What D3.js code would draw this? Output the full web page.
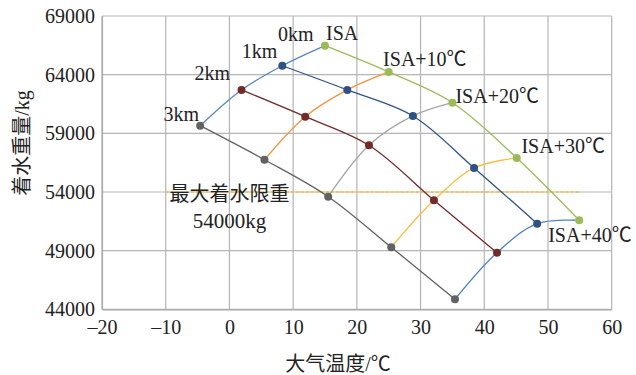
<!DOCTYPE html>
<html>
<head>
<meta charset="utf-8">
<script src="https://cdn.jsdelivr.net/npm/d3@7/dist/d3.min.js"></script>
<style>
  html, body { margin: 0; padding: 0; background: #fff; }
  text { font-family: "Liberation Serif", "Noto Sans CJK SC", serif; fill: #222; }
</style>
</head>
<body>
<svg id="chart" width="636" height="375"></svg>
<script>
// Axis ticks
const xTicks = [-20, -10, 0, 10, 20, 30, 40, 50, 60];
const yTicks = [44000, 49000, 54000, 59000, 64000, 69000];

// Row labels (pressure altitude) and isotherm labels
const altitudes = ["0km", "1km", "2km", "3km"];
const isaLabels = ["ISA", "ISA+10℃", "ISA+20℃", "ISA+30℃", "ISA+40℃"];

// Outside air temperature (℃) and landing weight (kg) per altitude, ISA .. ISA+40
const temp0km   = [15, 25, 35, 45.1, 54.9];
const weight0km = [66470, 64230, 61610, 56900, 51590];
const temp1km   = [8.3, 18.5, 28.8, 38.4, 48.3];
const weight1km = [64760, 62700, 60480, 56050, 51300];
const temp2km   = [1.9, 11.9, 21.9, 32.1, 42];
const weight2km = [62700, 60420, 57980, 53290, 48830];
const temp3km   = [-4.6, 5.5, 15.5, 25.4, 35.4];
const weight3km = [59650, 56750, 53600, 49290, 44860];

// Maximum water-landing weight
const maxWeight = 54000;
const maxWeightRange = [-10, 55];

const altColors = ["#9bbb59", "#2f5284", "#722b2b", "#626262"];
const isaColors = ["#5686c6", "#f7913d", "#a5a5a5", "#fbbd45", "#4f80c8"];

const rows = [
  { name: altitudes[0], t: temp0km, w: weight0km, color: altColors[0] },
  { name: altitudes[1], t: temp1km, w: weight1km, color: altColors[1] },
  { name: altitudes[2], t: temp2km, w: weight2km, color: altColors[2] },
  { name: altitudes[3], t: temp3km, w: weight3km, color: altColors[3] }
];

const svg = d3.select("#chart");
const m = { left: 102, top: 16, right: 24.3, bottom: 65.7 };
const W = 636 - m.left - m.right, H = 375 - m.top - m.bottom;

const x = d3.scaleLinear().domain([-20, 60]).range([m.left, m.left + W]);
const y = d3.scaleLinear().domain([44000, 69000]).range([m.top + H, m.top]);

// Grid
const grid = svg.append("g").attr("stroke", "#b5b5b5").attr("stroke-width", 1.2);
grid.selectAll("line.v").data(xTicks).join("line")
  .attr("x1", d => x(d)).attr("x2", d => x(d))
  .attr("y1", m.top).attr("y2", m.top + H);
grid.selectAll("line.h").data(yTicks).join("line")
  .attr("x1", m.left).attr("x2", m.left + W)
  .attr("y1", d => y(d)).attr("y2", d => y(d));

// Axes (labels only)
const xAxis = svg.append("g").attr("transform", `translate(0,${m.top + H})`)
  .call(d3.axisBottom(x).tickValues(xTicks).tickSize(0).tickPadding(11).tickFormat(d => d < 0 ? "–" + Math.abs(d) : d));
const yAxis = svg.append("g").attr("transform", `translate(${m.left},0)`)
  .call(d3.axisLeft(y).tickValues(yTicks).tickSize(0).tickPadding(7).tickFormat(d3.format("d")));
[xAxis, yAxis].forEach(a => {
  a.select(".domain").attr("stroke", "#a8a8a8").attr("stroke-width", 1.2);
  a.selectAll("text").style("font-size", "20px").attr("fill", "#222");
});

// Maximum landing weight line
svg.append("line")
  .attr("x1", x(maxWeightRange[0])).attr("x2", x(maxWeightRange[1]))
  .attr("y1", y(maxWeight)).attr("y2", y(maxWeight))
  .attr("stroke", "#f5c043").attr("stroke-width", 1.3).attr("stroke-dasharray", "3,2");

const line = d3.line().x(d => x(d[0])).y(d => y(d[1])).curve(d3.curveCatmullRom.alpha(0.5));

// Isotherm curves: 3km -> 0km at the same ISA deviation
const isoRows = [rows[3], rows[2], rows[1], rows[0]];
isaLabels.forEach((lab, i) => {
  svg.append("path")
    .attr("d", line(isoRows.map(r => [r.t[i], r.w[i]])))
    .attr("fill", "none").attr("stroke", isaColors[i]).attr("stroke-width", 1.3);
});

// Altitude curves
rows.forEach(r => {
  svg.append("path")
    .attr("d", line(r.t.map((t, i) => [t, r.w[i]])))
    .attr("fill", "none").attr("stroke", r.color).attr("stroke-width", 1.3);
});

// Markers
rows.forEach(r => {
  svg.append("g").selectAll("circle").data(r.t.map((t, i) => [t, r.w[i]])).join("circle")
    .attr("cx", d => x(d[0])).attr("cy", d => y(d[1])).attr("r", 4)
    .attr("fill", r.color);
});

// Altitude labels, placed beside the ISA point of each row
const altOffsets = [[-47, -5], [-5, -7.4], [-11.5, -10], [-1, -5]];
const altAnchors = ["start", "end", "end", "end"];
rows.forEach((r, k) => {
  svg.append("text")
    .attr("x", x(r.t[0]) + altOffsets[k][0]).attr("y", y(r.w[0]) + altOffsets[k][1])
    .attr("text-anchor", altAnchors[k]).style("font-size", "20px").text(r.name);
});

// Isotherm labels, placed beside the 0km point of each isotherm
const isaOffsets = [[1, -6], [-5.6, -6], [3, 0.8], [4.7, -4.7], [-31, 21.4]];
isaLabels.forEach((lab, i) => {
  svg.append("text")
    .attr("x", x(rows[0].t[i]) + isaOffsets[i][0]).attr("y", y(rows[0].w[i]) + isaOffsets[i][1])
    .style("font-size", "20px").text(lab);
});

// Max weight annotation
svg.append("text").attr("x", x(0)).attr("y", y(maxWeight) + 9)
  .attr("text-anchor", "middle").style("font-size", "20px").text("最大着水限重");
svg.append("text").attr("x", x(0)).attr("y", y(maxWeight) + 36)
  .attr("text-anchor", "middle").style("font-size", "21px").text(maxWeight + "kg");

// Axis titles
svg.append("text").attr("x", 338).attr("y", 371)
  .attr("text-anchor", "middle").style("font-size", "20px").text("大气温度/℃");
svg.append("text").attr("transform", "translate(29,143) rotate(-90)")
  .attr("text-anchor", "middle").style("font-size", "20px").text("着水重量/kg");
</script>
</body>
</html>
